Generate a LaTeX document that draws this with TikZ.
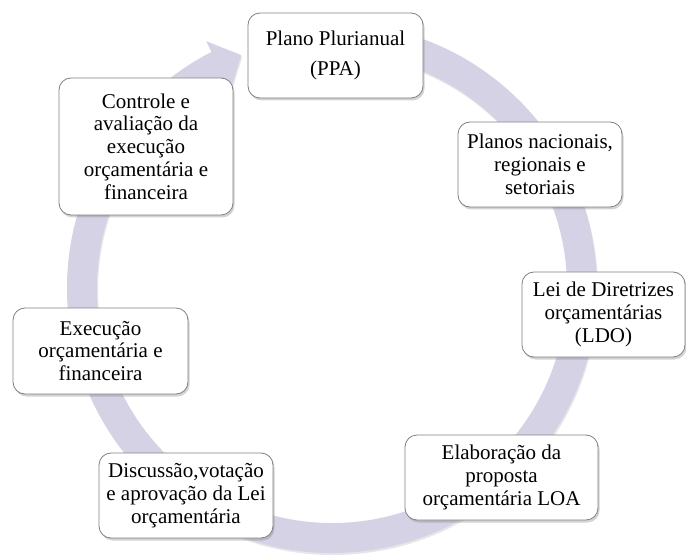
\documentclass[tikz,border=0pt]{standalone}
\usepackage{fontspec}
\setmainfont{Liberation Serif}
\usetikzlibrary{shadows}
\definecolor{anel}{HTML}{D4D2E4}
\definecolor{borda}{HTML}{808080}
\tikzset{
  etapa/.style={draw=borda, line width=0.8pt, fill=white, rounded corners=12pt,
    align=center, inner sep=0pt, font=\fontsize{21}{22.8}\selectfont,
    drop shadow={opacity=0.35, shadow xshift=1.5pt, shadow yshift=-2.5pt}},
}
\begin{document}
\begin{tikzpicture}[x=1pt,y=1pt]
    \useasboundingbox (0,0) rectangle (686,558);
    % anel com a seta
    \coordinate (ctr) at (332,270);
    \fill[anel, drop shadow={opacity=0.2, shadow xshift=1pt, shadow yshift=-2pt}]
        ([shift={(ctr)}]95:265) arc[start angle=95, end angle=-243, radius=265]
        -- ([shift={(ctr)}]-243:277) -- ([shift={(ctr)}]-248.7:250)
        -- ([shift={(ctr)}]-243:223) -- ([shift={(ctr)}]-243:235)
        arc[start angle=-243, end angle=95, radius=235] -- cycle;
    % etapas do ciclo
    \node[etapa, minimum width=175, minimum height=85] (ppa) at (335.5,502.5)
        {Plano Plurianual\\[7.5pt](PPA)};
    \node[etapa, minimum width=164, minimum height=85] (planos) at (540,393.5)
        {Planos nacionais,\\regionais e\\setoriais};
    \node[etapa, minimum width=163, minimum height=85] (ldo) at (603.5,243.5)
        {Lei de Diretrizes\\orçamentárias\\(LDO)};
    \node[etapa, minimum width=193, minimum height=85] (loa) at (501.5,80.5)
        {Elaboração da\\proposta\\orçamentária LOA};
    \node[etapa, minimum width=174, minimum height=85] (votacao) at (186,62.5)
        {Discussão,votação\\e aprovação da Lei\\orçamentária};
    \node[etapa, minimum width=175, minimum height=86] (execucao) at (100.5,207)
        {Execução\\orçamentária e\\financeira};
    \node[etapa, minimum width=174, minimum height=137] (controle) at (146,411.5)
        {Controle e\\avaliação da\\execução\\orçamentária e\\financeira};
\end{tikzpicture}
\end{document}
